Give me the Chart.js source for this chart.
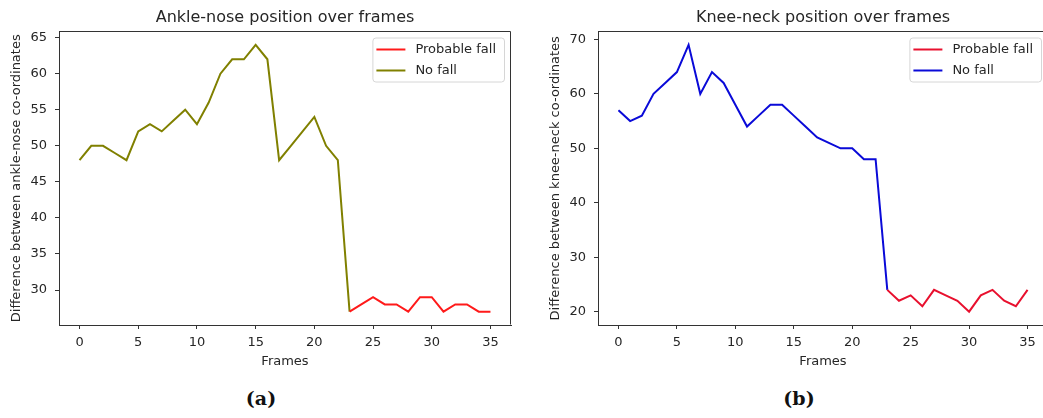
<!DOCTYPE html>
<html>
<head>
<meta charset="utf-8">
<script src="https://cdn.jsdelivr.net/npm/chart.js@4.4.1/dist/chart.umd.min.js"></script>
<style>
  html, body { margin: 0; padding: 0; background: #fff; }
  body { width: 1043px; height: 418px; position: relative; overflow: hidden; }
  .wrap { position: absolute; top: 0; width: 520px; height: 372px; }
  .cap {
    position: absolute; top: 387px; width: 60px; text-align: center;
    font-family: "DejaVu Serif", serif; font-weight: bold; font-size: 19px; color: #111;
  }
</style>
</head>
<body>
<div class="wrap" style="left:0px"><canvas id="ankleChart"></canvas></div>
<div class="wrap" style="left:539px"><canvas id="kneeChart"></canvas></div>
<div class="cap" style="left:231px">(a)</div>
<div class="cap" style="left:769px">(b)</div>

<script>
const frames = [0, 1, 2, 3, 4, 5, 6, 7, 8, 9, 10, 11, 12, 13, 14, 15, 16, 17,
  18, 19, 20, 21, 22, 23, 24, 25, 26, 27, 28, 29, 30, 31, 32, 33, 34, 35];
const fallStart = 23;

// ankle-nose, frames 0..23 and 23..35
const ankleNoFall = [48, 50, 50, 49, 48, 52, 53, 52, 53.5, 55, 53, 56, 60, 62, 62, 64,
  62, 48, 50, 52, 54, 50, 48, 27];
const ankleFall = [27, 28, 29, 28, 28, 27, 29, 29, 27, 28, 28, 27, 27];

// knee-neck, frames 0..23 and 23..35
const kneeNoFall = [57, 55, 56, 60, 62, 64, 69, 60, 64, 62, 58, 54, 56, 58, 58, 56,
  54, 52, 51, 50, 50, 48, 48, 24];
const kneeFall = [24, 22, 23, 21, 24, 23, 22, 20, 23, 24, 22, 21, 24];

const xTicks = [0, 5, 10, 15, 20, 25, 30, 35];
const ankleTicks = [30, 35, 40, 45, 50, 55, 60, 65];
const kneeTicks = [20, 30, 40, 50, 60, 70];

const TEXT = "#262626";
const AXIS = "#333";
const FONT = "'DejaVu Sans', sans-serif";

function toPoints(vals, offset) {
  return vals.map((v, i) => ({ x: frames[offset + i], y: v }));
}

// frame box + matplotlib-like legend inside the plot area
const framePlugin = {
  id: "frameLegend",
  afterDraw(chart) {
    const { ctx, chartArea: a } = chart;
    ctx.save();
    const l = Math.round(a.left) + 0.5, r = Math.round(a.right) - 0.5;
    const t = Math.round(a.top) + 0.5, b = Math.round(a.bottom) - 0.5;
    ctx.strokeStyle = AXIS;
    ctx.lineWidth = 1;
    ctx.beginPath();
    ctx.moveTo(l, b);
    ctx.lineTo(l, t);
    ctx.lineTo(r, t);
    ctx.lineTo(r, b);
    ctx.stroke();

    ctx.font = "13px " + FONT;
    const items = chart.data.datasets;
    let tw = 0;
    items.forEach((d) => { tw = Math.max(tw, ctx.measureText(d.label).width); });
    const w = 43 + tw + 8;
    const h = 44;
    const x = a.right - 7 - w;
    const y = a.top + 6;
    ctx.beginPath();
    ctx.roundRect(x + 0.5, y + 0.5, w, h, 3);
    ctx.fillStyle = "rgba(255,255,255,0.8)";
    ctx.fill();
    ctx.strokeStyle = "#d6d6d6";
    ctx.stroke();
    items.forEach((d, i) => {
      const cy = y + 12 + i * 21;
      ctx.strokeStyle = d.borderColor;
      ctx.lineWidth = 2;
      ctx.beginPath();
      ctx.moveTo(x + 4, cy);
      ctx.lineTo(x + 33, cy);
      ctx.stroke();
      ctx.fillStyle = TEXT;
      ctx.textBaseline = "middle";
      ctx.fillText(d.label, x + 43, cy);
    });
    ctx.restore();
  },
};

function makeChart(id, title, yLabel, noFall, fall, noFallColor, fallColor, yMin, yMax, yTicks, padRight) {
  new Chart(document.getElementById(id), {
    type: "line",
    data: {
      datasets: [
        {
          label: "Probable fall",
          data: toPoints(fall, fallStart),
          borderColor: fallColor,
          borderWidth: 2,
          pointRadius: 0,
          tension: 0,
          order: 0,
        },
        {
          label: "No fall",
          data: toPoints(noFall, 0),
          borderColor: noFallColor,
          borderWidth: 2,
          pointRadius: 0,
          tension: 0,
          order: 1,
        },
      ],
    },
    options: {
      responsive: false,
      animation: false,
      devicePixelRatio: 1,
      layout: { padding: { left: 5, top: 0.7, right: padRight, bottom: 0 } },
      plugins: {
        legend: { display: false },
        tooltip: { enabled: false },
        title: {
          display: true,
          text: title,
          fullSize: false,
          color: TEXT,
          font: { family: FONT, size: 16, weight: "normal" },
          padding: { top: 8, bottom: 3.6 },
        },
      },
      scales: {
        x: {
          type: "linear",
          min: -1.75,
          max: 36.75,
          afterBuildTicks: (s) => { s.ticks = xTicks.map((v) => ({ value: v })); },
          afterFit: (s) => { s.height = 47; },
          grid: { drawOnChartArea: false, tickLength: 4, tickColor: AXIS },
          border: { color: AXIS },
          ticks: { color: TEXT, font: { family: FONT, size: 13 }, padding: 6, maxRotation: 0 },
          title: {
            display: true, text: "Frames", color: TEXT,
            font: { family: FONT, size: 13 }, padding: { top: 0, bottom: 3 },
          },
        },
        y: {
          min: yMin,
          max: yMax,
          afterBuildTicks: (s) => { s.ticks = yTicks.map((v) => ({ value: v })); },
          afterFit: (s) => { s.width = 54; },
          grid: { drawOnChartArea: false, tickLength: 4, tickColor: AXIS },
          border: { color: AXIS },
          ticks: { color: TEXT, font: { family: FONT, size: 13 }, padding: 8 },
          title: {
            display: true, text: yLabel, color: TEXT,
            font: { family: FONT, size: 13 }, padding: { top: 4, bottom: 0 },
          },
        },
      },
    },
    plugins: [framePlugin],
  });
}

const c1 = document.getElementById("ankleChart");
c1.width = 520; c1.height = 372;
const c2 = document.getElementById("kneeChart");
c2.width = 520; c2.height = 372;

makeChart("ankleChart", "Ankle-nose position over frames",
  "Difference between ankle-nose co-ordinates",
  ankleNoFall, ankleFall, "#808000", "#ff1a1a", 25.15, 65.85, ankleTicks, 9);
makeChart("kneeChart", "Knee-neck position over frames",
  "Difference between knee-neck co-ordinates",
  kneeNoFall, kneeFall, "#0a0ad8", "#e8102e", 17.55, 71.45, kneeTicks, 11);
</script>
</body>
</html>
